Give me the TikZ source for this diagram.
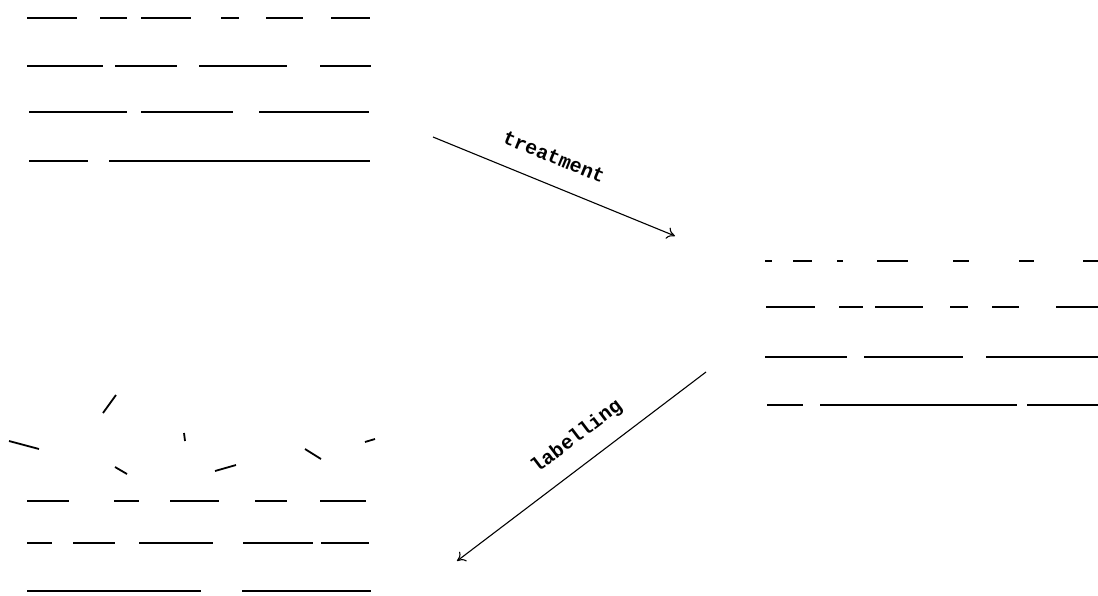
\documentclass[tikz,border=0pt]{standalone}
\usepackage{fontspec}
\setmonofont{Liberation Mono}
\usetikzlibrary{arrows.meta}
\tikzset{
  seg/.style={line width=1.8pt},
  conn/.style={line width=1.1pt,-{To[length=8pt,width=12pt]}},
  lbl/.style={font=\ttfamily\bfseries\fontsize{20}{20}\selectfont,inner sep=0pt}
}
\begin{document}
\begin{tikzpicture}[x=1pt,y=-1pt]
\useasboundingbox (0,0) rectangle (1098,595);
% top-left block
\foreach \a/\b in {27/77,100/127,141/191,221/239,266/303,331/370} \draw[seg] (\a,18) -- (\b,18);
\foreach \a/\b in {27/103,115/177,199/287,320/371} \draw[seg] (\a,66) -- (\b,66);
\foreach \a/\b in {29/127,141/233,259/369} \draw[seg] (\a,112) -- (\b,112);
\foreach \a/\b in {29/88,109/370} \draw[seg] (\a,161) -- (\b,161);
% right block
\foreach \a/\b in {765/772,793/812,837/843,877/908,953/969,1019/1034,1083/1098} \draw[seg] (\a,261) -- (\b,261);
\foreach \a/\b in {766/815,839/863,875/923,950/968,992/1019,1056/1098} \draw[seg] (\a,307) -- (\b,307);
\foreach \a/\b in {765/847,864/963,986/1098} \draw[seg] (\a,357) -- (\b,357);
\foreach \a/\b in {767/803,820/1017,1027/1098} \draw[seg] (\a,405) -- (\b,405);
% bottom-left block: loose fragments
\draw[seg] (103,413) -- (116,395);
\draw[seg] (9,441) -- (39,449);
\draw[seg] (184,433) -- (185,441);
\draw[seg] (365,442) -- (375,439);
\draw[seg] (305,449) -- (321,459);
\draw[seg] (115,467) -- (127,474);
\draw[seg] (215,471) -- (236,465);
\foreach \a/\b in {27/69,114/139,170/219,255/287,320/366} \draw[seg] (\a,501) -- (\b,501);
\foreach \a/\b in {27/52,73/115,139/213,243/313,321/369} \draw[seg] (\a,543) -- (\b,543);
\foreach \a/\b in {27/201,242/371} \draw[seg] (\a,591) -- (\b,591);
% connectors
\coordinate (t1) at (433,137);
\coordinate (t2) at (675,236);
\coordinate (l1) at (706,372);
\coordinate (l2) at (457,561);
\draw[conn] (t1) -- (t2);
\draw[conn] (l1) -- (l2);
\node[lbl,rotate=-22.2] (treat) at (554,157) {treatment};
\node[lbl,rotate=37.2] (label) at (577,437) {labelling};
\end{tikzpicture}
\end{document}
